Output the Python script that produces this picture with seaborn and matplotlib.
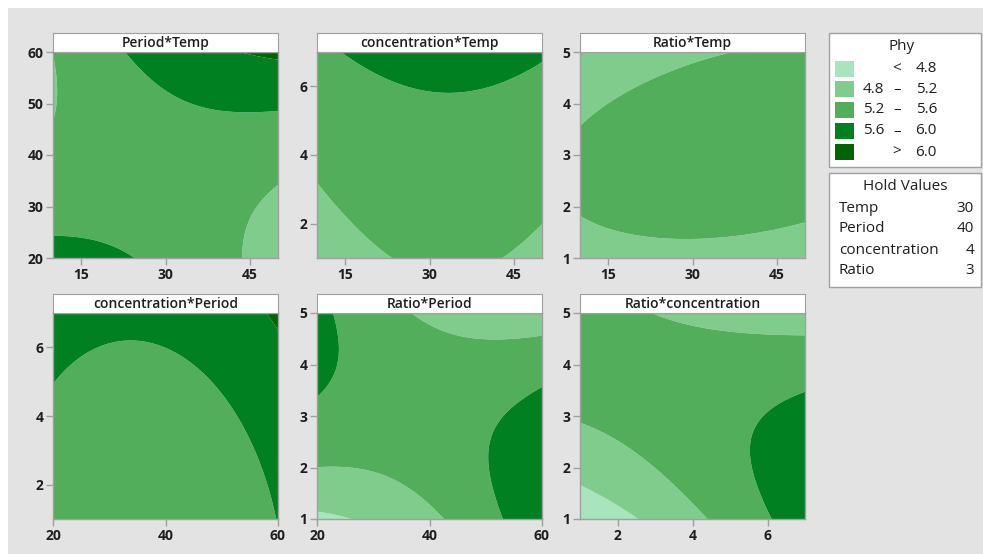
import numpy as np
import matplotlib
matplotlib.use("Agg")
import matplotlib.pyplot as plt
from matplotlib.patches import Rectangle
import seaborn as sns

# -----------------------------
# Data: response surface for Phy
# -----------------------------

factors = ["Temp", "Period", "concentration", "Ratio"]
low = [10, 20, 1, 1]
high = [50, 60, 7, 5]
hold = [30, 40, 4, 3]

# (x factor, y factor) for each panel
pairs = [("Temp", "Period"), ("Temp", "concentration"), ("Temp", "Ratio"),
         ("Period", "concentration"), ("Period", "Ratio"), ("concentration", "Ratio")]

# quadratic terms per panel, coded units: const, x, y, x^2, y^2, x*y
coef_period_temp = [5.438, 0.035, 0.131, -0.137, 0.204, 0.397]
coef_conc_temp = [5.436, 0.043, 0.244, -0.130, 0.036, 0.002]
coef_ratio_temp = [5.433, 0.090, 0.024, -0.090, -0.321, 0.123]
coef_conc_period = [5.440, 0.115, 0.200, 0.214, 0.063, 0.024]
coef_ratio_period = [5.433, 0.119, 0.008, 0.206, -0.306, -0.484]
coef_ratio_conc = [5.431, 0.243, 0.009, 0.041, -0.311, -0.423]
coefs = [coef_period_temp, coef_conc_temp, coef_ratio_temp,
         coef_conc_period, coef_ratio_period, coef_ratio_conc]

x_ticks = {"Temp": [15, 30, 45], "Period": [20, 40, 60], "concentration": [2, 4, 6]}
y_ticks = {"Period": [20, 30, 40, 50, 60], "concentration": [2, 4, 6], "Ratio": [1, 2, 3, 4, 5]}

cuts = [4.8, 5.2, 5.6, 6.0]
legend_labels = [("", "<", "4.8"), ("4.8", "\u2013", "5.2"), ("5.2", "\u2013", "5.6"),
                 ("5.6", "\u2013", "6.0"), ("", ">", "6.0")]

# -----------------------------
# Style
# -----------------------------

sns.set_style("white")
plt.rcParams["font.family"] = ["Open Sans", "DejaVu Sans"]
greens = sns.color_palette(["#a8e4bc", "#80cc8c", "#52ae5a", "#008020", "#006400"])
edge = "#a0a0a0"
bg = "#e3e3e3"
ink = "#1e1e1e"

W, H = 983, 554
fig = plt.figure(figsize=(W / 100, H / 100), dpi=100)
fig.patch.set_facecolor("white")
fig.patches.append(Rectangle((8 / W, 0), 1, 1 - 8 / H, transform=fig.transFigure,
                             facecolor=bg, edgecolor="none", zorder=-10))


def box(px, py, pw, ph):
    # pixel box (from top-left) -> figure rect
    return [px / W, 1 - (py + ph) / H, pw / W, ph / H]


lefts = [53, 317, 580]
tops = [52, 313]
pw, ph = 225, 206

for k, (xf, yf) in enumerate(pairs):
    r, c = divmod(k, 3)
    ix, iy = factors.index(xf), factors.index(yf)
    xs = np.linspace(low[ix], high[ix], 300)
    ys = np.linspace(low[iy], high[iy], 300)
    X, Y = np.meshgrid(xs, ys)
    u = (X - hold[ix]) / ((high[ix] - low[ix]) / 2)
    v = (Y - hold[iy]) / ((high[iy] - low[iy]) / 2)
    b = coefs[k]
    Z = b[0] + b[1] * u + b[2] * v + b[3] * u * u + b[4] * v * v + b[5] * u * v

    ax = fig.add_axes(box(lefts[c], tops[r], pw, ph))
    ax.contourf(X, Y, Z, levels=[0] + cuts + [10], colors=greens, antialiased=True)
    ax.set_xlim(low[ix], high[ix])
    ax.set_ylim(low[iy], high[iy])
    ax.set_xticks(x_ticks[xf])
    ax.set_yticks(y_ticks[yf])
    ax.tick_params(direction="out", length=5, width=1, color=edge, pad=2,
                   labelsize=10, labelcolor=ink, left=True, bottom=True)
    for t in ax.get_xticklabels() + ax.get_yticklabels():
        t.set_fontweight("bold")
    for s in ax.spines.values():
        s.set_color(edge)
        s.set_linewidth(1)

    # title strip
    tax = fig.add_axes(box(lefts[c], tops[r] - 19, pw, 19))
    tax.set_xticks([])
    tax.set_yticks([])
    tax.set_facecolor("white")
    for s in tax.spines.values():
        s.set_color(edge)
    tax.text(0.5, 0.45, yf + "*" + xf, ha="center", va="center", fontsize=10,
             fontweight="semibold", color=ink, transform=tax.transAxes)

# -----------------------------
# Legend boxes
# -----------------------------


def fx(px):
    return px / W


def fy(py):
    return 1 - py / H


fig.patches.append(Rectangle((fx(829), fy(167)), 152 / W, 134 / H, transform=fig.transFigure,
                             facecolor="white", edgecolor=edge, lw=1))
fig.text(fx(902), fy(47), "Phy", ha="center", va="center", fontsize=11, color=ink)
row_y = [69, 89, 110, 131, 152]
for (a, mid, bnum), col, yy in zip(legend_labels, greens, row_y):
    fig.patches.append(Rectangle((fx(835), fy(yy + 8)), 19 / W, 16 / H, transform=fig.transFigure,
                                 facecolor=col, edgecolor="none"))
    if a:
        fig.text(fx(884), fy(yy), a, ha="right", va="center", fontsize=11, color=ink)
    fig.text(fx(897), fy(yy), mid, ha="center", va="center", fontsize=11, color=ink)
    fig.text(fx(937), fy(yy), bnum, ha="right", va="center", fontsize=11, color=ink)

fig.patches.append(Rectangle((fx(829), fy(287)), 152 / W, 114 / H, transform=fig.transFigure,
                             facecolor="white", edgecolor=edge, lw=1))
fig.text(fx(905), fy(186), "Hold Values", ha="center", va="center", fontsize=11, color=ink)
hold_y = [208, 229, 250, 270]
for name, val, yy in zip(factors, hold, hold_y):
    fig.text(fx(839), fy(yy), name, ha="left", va="center", fontsize=11, color=ink)
    fig.text(fx(974), fy(yy), str(val), ha="right", va="center", fontsize=11, color=ink)

fig.savefig("out.png", dpi=100, facecolor=fig.get_facecolor())
